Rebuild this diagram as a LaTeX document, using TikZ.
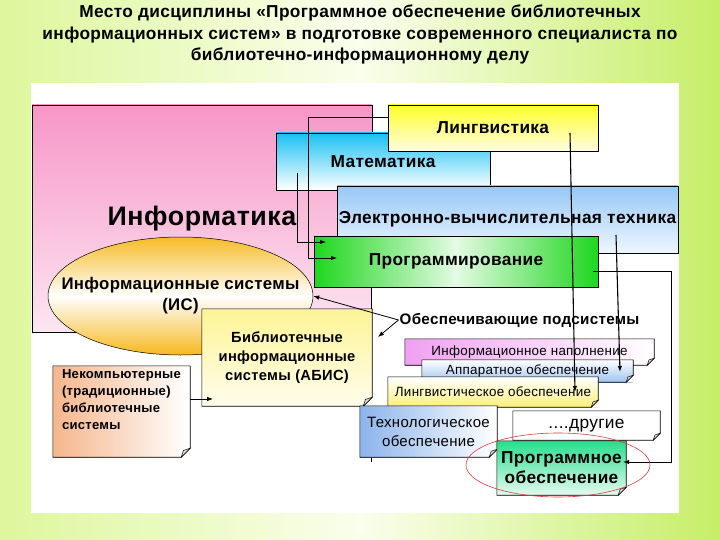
\documentclass[tikz,border=0pt]{standalone}
\usepackage{fontspec}
\setmainfont{Liberation Sans}[LetterSpace=2.0]
\usetikzlibrary{shapes.geometric,arrows.meta}

\definecolor{bgL}{RGB}{221,247,156}
\definecolor{bgM}{RGB}{250,254,236}
\definecolor{bgR}{RGB}{198,238,104}
\definecolor{pinkT}{RGB}{247,150,200}
\definecolor{pinkB}{RGB}{252,230,241}
\definecolor{lingT}{RGB}{255,255,40}
\definecolor{lingB}{RGB}{255,253,225}
\definecolor{matT}{RGB}{25,192,242}
\definecolor{evtT}{RGB}{150,200,245}
\definecolor{evtB}{RGB}{238,246,255}
\definecolor{progG}{RGB}{30,215,30}
\definecolor{progM}{RGB}{228,250,228}
\definecolor{isT}{RGB}{246,188,40}
\definecolor{isB}{RGB}{246,184,30}
\definecolor{nkL}{RGB}{245,182,140}
\definecolor{biblT}{RGB}{253,244,150}
\definecolor{biblB}{RGB}{255,253,236}
\definecolor{inapL}{RGB}{240,160,240}
\definecolor{apparB}{RGB}{160,195,240}
\definecolor{lingobB}{RGB}{250,240,120}
\definecolor{techL}{RGB}{140,180,235}
\definecolor{poT}{RGB}{40,222,140}
\definecolor{poB}{RGB}{228,250,240}
\definecolor{ringRed}{RGB}{220,60,60}

% folded corner at the lower right of a note
\newcommand\foldcorner[2][9]{%
  \fill[white] ([xshift=-#1pt]#2.south east) -- (#2.south east) -- ([yshift=#1pt]#2.south east) -- cycle;
  \draw[line width=0.6pt] (#2.north west) -- (#2.north east) -- ([yshift=#1pt]#2.south east)
    -- ([xshift=-#1pt]#2.south east) -- (#2.south west) -- cycle;
  \draw[line width=0.5pt, fill=black!12] ([yshift=#1pt]#2.south east)
    -- ([xshift=-0.75*#1pt,yshift=0.75*#1pt]#2.south east) -- ([xshift=-#1pt]#2.south east) -- cycle;}

\begin{document}
\begin{tikzpicture}[x=1pt,y=-1pt,
    box/.style={draw, line width=0.6pt, inner sep=0pt, font=\bfseries\fontsize{17.3}{20}\selectfont},
    note/.style={inner sep=0pt},
    conn/.style={-{Latex[length=6pt,width=4.5pt]}, line width=0.8pt}]
  \useasboundingbox (0,0) rectangle (720,540);
  \shade[left color=bgL, right color=bgR, middle color=bgM] (0,0) rectangle (720,540);
  \fill[white] (31,83) rectangle (679,513);

  \node[anchor=north, inner sep=0pt, align=center, font=\bfseries\fontsize{17.3}{21.5}\selectfont] (title) at (360,5)
    {Место дисциплины «Программное обеспечение библиотечных\\информационных систем» в подготовке современного специалиста по\\библиотечно-информационному делу};

  % upper row of disciplines
  \node[box, top color=pinkT, bottom color=pinkB, minimum width=340pt, minimum height=227pt,
    font=\bfseries\fontsize{26.8}{30}\selectfont] (inf) at (202,218.5) {Информатика};
  \node[box, top color=matT, bottom color=white, minimum width=214pt, minimum height=57pt] (mat) at (383,161.5) {Математика};
  \node[box, top color=lingT, bottom color=lingB, minimum width=210pt, minimum height=46pt] (ling) at (493,128) {Лингвистика};
  \node[box, top color=evtT, bottom color=evtB, minimum width=341pt, minimum height=67pt] (evt) at (507.5,219.5) {Электронно-вычислительная техника};
  % white field behind the subsystems, open at the bottom
  \draw[fill=white, line width=0.6pt] (371,462) -- (371,271) -- (671,271) -- (671,462);
  \node[box, left color=progG, right color=progG, middle color=progM, minimum width=284pt, minimum height=51pt] (prog) at (456,261.5) {Программирование};

  % information systems
  \node[ellipse, draw, line width=0.5pt, top color=isT, bottom color=isB, middle color=white,
    minimum width=265pt, minimum height=118pt, inner sep=0pt] (is) at (180.5,296) {};
  \node[align=center, font=\bfseries\fontsize{16.8}{21}\selectfont] (isLbl) at (is.center) {Информационные системы\\(ИС)};

  \node[note, top color=biblT, bottom color=biblB, minimum width=170pt, minimum height=97pt, align=center,
    font=\bfseries\fontsize{14.7}{19.3}\selectfont] (bibl) at (287,357.5) {Библиотечные\\информационные\\системы (АБИС)};
  \foldcorner{bibl}
  \node[note, left color=nkL, right color=white, minimum width=137pt, minimum height=91pt] (nk) at (121.5,411.5) {};
  \foldcorner{nk}
  \node[anchor=north west, inner sep=0pt, align=left, font=\bfseries\fontsize{13.1}{17}\selectfont] (nkLbl)
    at ([xshift=9pt,yshift=-3pt]nk.north west) {Некомпьютерные\\(традиционные)\\библиотечные\\системы};

  % supporting subsystems
  \node[inner sep=1pt, font=\bfseries\fontsize{15.2}{17}\selectfont] (obes) at (519.5,320) {Обеспечивающие подсистемы};
  \node[note, left color=inapL, right color=white, minimum width=249pt, minimum height=26pt,
    font=\fontsize{13.4}{15}\selectfont] (inap) at (529.5,352) {Информационное наполнение};
  \foldcorner[7]{inap}
  \node[note, top color=white, bottom color=apparB, minimum width=211pt, minimum height=22pt,
    font=\fontsize{13.4}{15}\selectfont] (appar) at (527.5,371) {Аппаратное обеспечение};
  \foldcorner[7]{appar}
  \node[note, top color=white, bottom color=lingobB, minimum width=210pt, minimum height=30pt,
    font=\fontsize{13.4}{15}\selectfont] (lingob) at (493,392) {Лингвистическое обеспечение};
  \foldcorner[7]{lingob}
  \node[note, left color=techL, right color=white, minimum width=137pt, minimum height=51pt, align=center,
    font=\fontsize{15}{19}\selectfont] (tech) at (428.5,431.5) {Технологическое\\обеспечение};
  \foldcorner[8]{tech}
  \node[note, fill=white, minimum width=147pt, minimum height=29pt,
    font=\fontsize{17.3}{19}\selectfont] (other) at (586.5,425.5) {....другие};
  \foldcorner[7]{other}
  \node[note, top color=poT, bottom color=poB, minimum width=129pt, minimum height=54pt, align=center,
    font=\bfseries\fontsize{17.3}{20}\selectfont] (po) at (561.5,468) {Программное\\обеспечение};
  \foldcorner[8]{po}

  % connectors
  \coordinate (progA) at (337,258);
  \coordinate (progB) at (326,242);
  \coordinate (matOut) at (297,173);
  \coordinate (lingOut) at (570,133);
  \coordinate (lingobIn) at (575,392);
  \coordinate (evtOut) at (616,235);
  \coordinate (apparIn) at (620,372);
  \coordinate (progOut) at (593,271);
  \coordinate (poIn) at (623,462);
  \coordinate (obesPt) at (378,337);
  \coordinate (biblIn) at (213,399);

  \draw[conn] ([yshift=11pt]ling.west) -- ++(-79,0) |- (progA);
  \draw[conn] (matOut) |- (progB);
  \draw[conn, line width=1.1pt] (lingOut) -- (lingobIn);
  \draw[conn, line width=1.1pt] (evtOut) -- (apparIn);
  \draw[conn, line width=1pt] (progOut) -- ++(78,0) |- (poIn);
  \draw[conn] (obes.west) -- (is.east);
  \draw[conn] (obes.west) -- (obesPt);
  \draw[conn] ([yshift=12.5pt]nk.east) -- (biblIn);

  \node[ellipse, draw=ringRed, line width=0.6pt, minimum width=184pt, minimum height=64pt] (ring) at (558,465) {};
\end{tikzpicture}
\end{document}
